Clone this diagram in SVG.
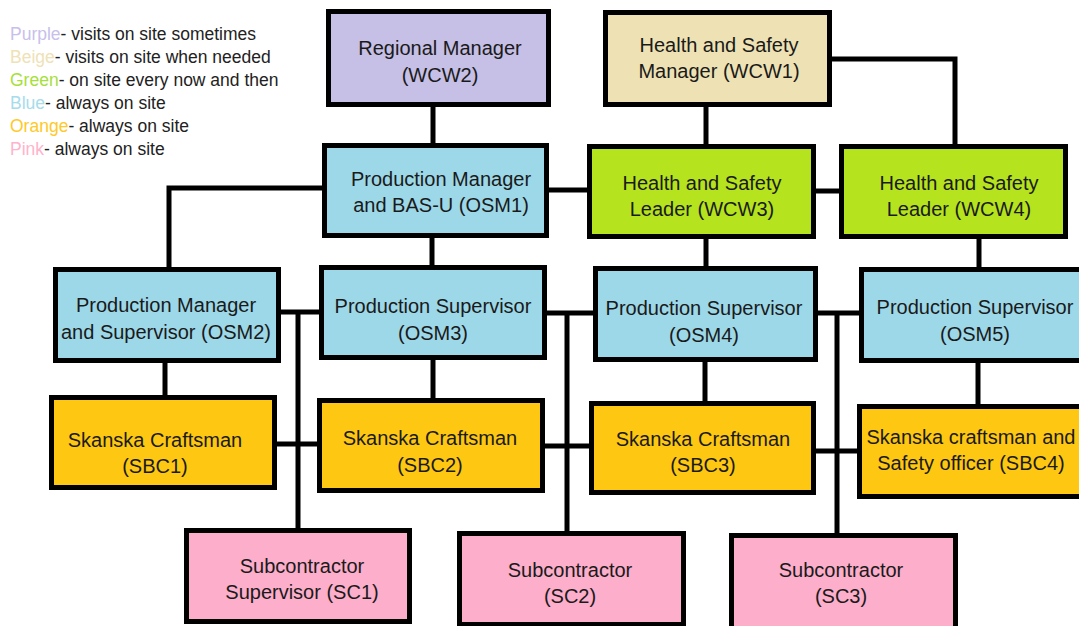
<svg xmlns="http://www.w3.org/2000/svg" width="1079" height="626" viewBox="0 0 1079 626">
<style>
.box{stroke:#000;stroke-width:5}
.purple{fill:#c6bfe6}.beige{fill:#eee2b4}.blue{fill:#9dd8e9}.green{fill:#b5e31d}.orange{fill:#fec812}.pink{fill:#fdaecb}
.t{font-family:"Liberation Sans",Arial,sans-serif;font-size:20px;fill:#1a1a1a;text-anchor:middle}
.lg{font-family:"Liberation Sans",Arial,sans-serif;font-size:17.5px;fill:#222}
.conn{fill:none;stroke:#000;stroke-width:5;stroke-linejoin:miter}
</style>
<rect width="1079" height="626" fill="#fff"/>
<g id="legend">
<text class="lg" x="10" y="40"><tspan fill="#c8c0ec">Purple</tspan>- visits on site sometimes</text>
<text class="lg" x="10" y="63"><tspan fill="#eee2b6">Beige</tspan>- visits on site when needed</text>
<text class="lg" x="10" y="86"><tspan fill="#a6e03a">Green</tspan>- on site every now and then</text>
<text class="lg" x="10" y="109"><tspan fill="#a6dcec">Blue</tspan>- always on site</text>
<text class="lg" x="10" y="132"><tspan fill="#ffc928">Orange</tspan>- always on site</text>
<text class="lg" x="10" y="155"><tspan fill="#ffb3cc">Pink</tspan>- always on site</text>
</g>
<g id="connectors">
<path class="conn" d="M433,107V143"/>
<path class="conn" d="M322,188H169V267"/>
<path class="conn" d="M549,190H587"/>
<path class="conn" d="M706,107V144"/>
<path class="conn" d="M832,59H955V144"/>
<path class="conn" d="M816,191H839"/>
<path class="conn" d="M432,238V265"/>
<path class="conn" d="M706,239V266"/>
<path class="conn" d="M979,239V267"/>
<path class="conn" d="M165,363V395"/>
<path class="conn" d="M433,360V398"/>
<path class="conn" d="M705,362V401"/>
<path class="conn" d="M978,363V404"/>
<path class="conn" d="M281,312H319"/>
<path class="conn" d="M298,312V528"/>
<path class="conn" d="M277,444H317"/>
<path class="conn" d="M547,313H593"/>
<path class="conn" d="M567,313V531"/>
<path class="conn" d="M545,446H589"/>
<path class="conn" d="M818,313H859"/>
<path class="conn" d="M837,313V533"/>
<path class="conn" d="M816,451H857"/>
</g>
<g id="WCW2"><rect class="box purple" x="328.5" y="11.5" width="220" height="93"/>
<text class="t" x="440" y="55">Regional Manager</text><text class="t" x="440" y="82">(WCW2)</text></g>
<g id="WCW1"><rect class="box beige" x="605.5" y="12.5" width="224" height="92"/>
<text class="t" x="719" y="52">Health and Safety</text><text class="t" x="719" y="78">Manager (WCW1)</text></g>
<g id="OSM1"><rect class="box blue" x="324.5" y="145.5" width="222" height="90"/>
<text class="t" x="441" y="186">Production Manager</text><text class="t" x="441" y="212">and BAS-U (OSM1)</text></g>
<g id="WCW3"><rect class="box green" x="589.5" y="146.5" width="224" height="90"/>
<text class="t" x="702" y="190">Health and Safety</text><text class="t" x="702" y="216">Leader (WCW3)</text></g>
<g id="WCW4"><rect class="box green" x="841.5" y="146.5" width="224" height="90"/>
<text class="t" x="959" y="190">Health and Safety</text><text class="t" x="959" y="216">Leader (WCW4)</text></g>
<g id="OSM2"><rect class="box blue" x="55.5" y="269.5" width="223" height="91"/>
<text class="t" x="166" y="312">Production Manager</text><text class="t" x="166" y="339">and Supervisor (OSM2)</text></g>
<g id="OSM3"><rect class="box blue" x="321.5" y="267.5" width="223" height="90"/>
<text class="t" x="433" y="313">Production Supervisor</text><text class="t" x="433" y="340">(OSM3)</text></g>
<g id="OSM4"><rect class="box blue" x="595.5" y="268.5" width="220" height="91"/>
<text class="t" x="704" y="315">Production Supervisor</text><text class="t" x="704" y="342">(OSM4)</text></g>
<g id="OSM5"><rect class="box blue" x="861.5" y="269.5" width="240" height="91"/>
<text class="t" x="975" y="314">Production Supervisor</text><text class="t" x="975" y="341">(OSM5)</text></g>
<g id="SBC1"><rect class="box orange" x="51.5" y="397.5" width="223" height="90"/>
<text class="t" x="155" y="447">Skanska Craftsman</text><text class="t" x="155" y="473">(SBC1)</text></g>
<g id="SBC2"><rect class="box orange" x="319.5" y="400.5" width="223" height="90"/>
<text class="t" x="430" y="445">Skanska Craftsman</text><text class="t" x="430" y="472">(SBC2)</text></g>
<g id="SBC3"><rect class="box orange" x="591.5" y="403.5" width="222" height="89"/>
<text class="t" x="703" y="446">Skanska Craftsman</text><text class="t" x="703" y="472">(SBC3)</text></g>
<g id="SBC4"><rect class="box orange" x="859.5" y="406.5" width="240" height="90"/>
<text class="t" x="971" y="444">Skanska craftsman and</text><text class="t" x="971" y="470">Safety officer (SBC4)</text></g>
<g id="SC1"><rect class="box pink" x="186.5" y="530.5" width="223" height="91"/>
<text class="t" x="302" y="573">Subcontractor</text><text class="t" x="302" y="599">Supervisor (SC1)</text></g>
<g id="SC2"><rect class="box pink" x="459.5" y="533.5" width="224" height="91"/>
<text class="t" x="570" y="577">Subcontractor</text><text class="t" x="570" y="603">(SC2)</text></g>
<g id="SC3"><rect class="box pink" x="731.5" y="535.5" width="224" height="100"/>
<text class="t" x="841" y="577">Subcontractor</text><text class="t" x="841" y="603">(SC3)</text></g>
</svg>
